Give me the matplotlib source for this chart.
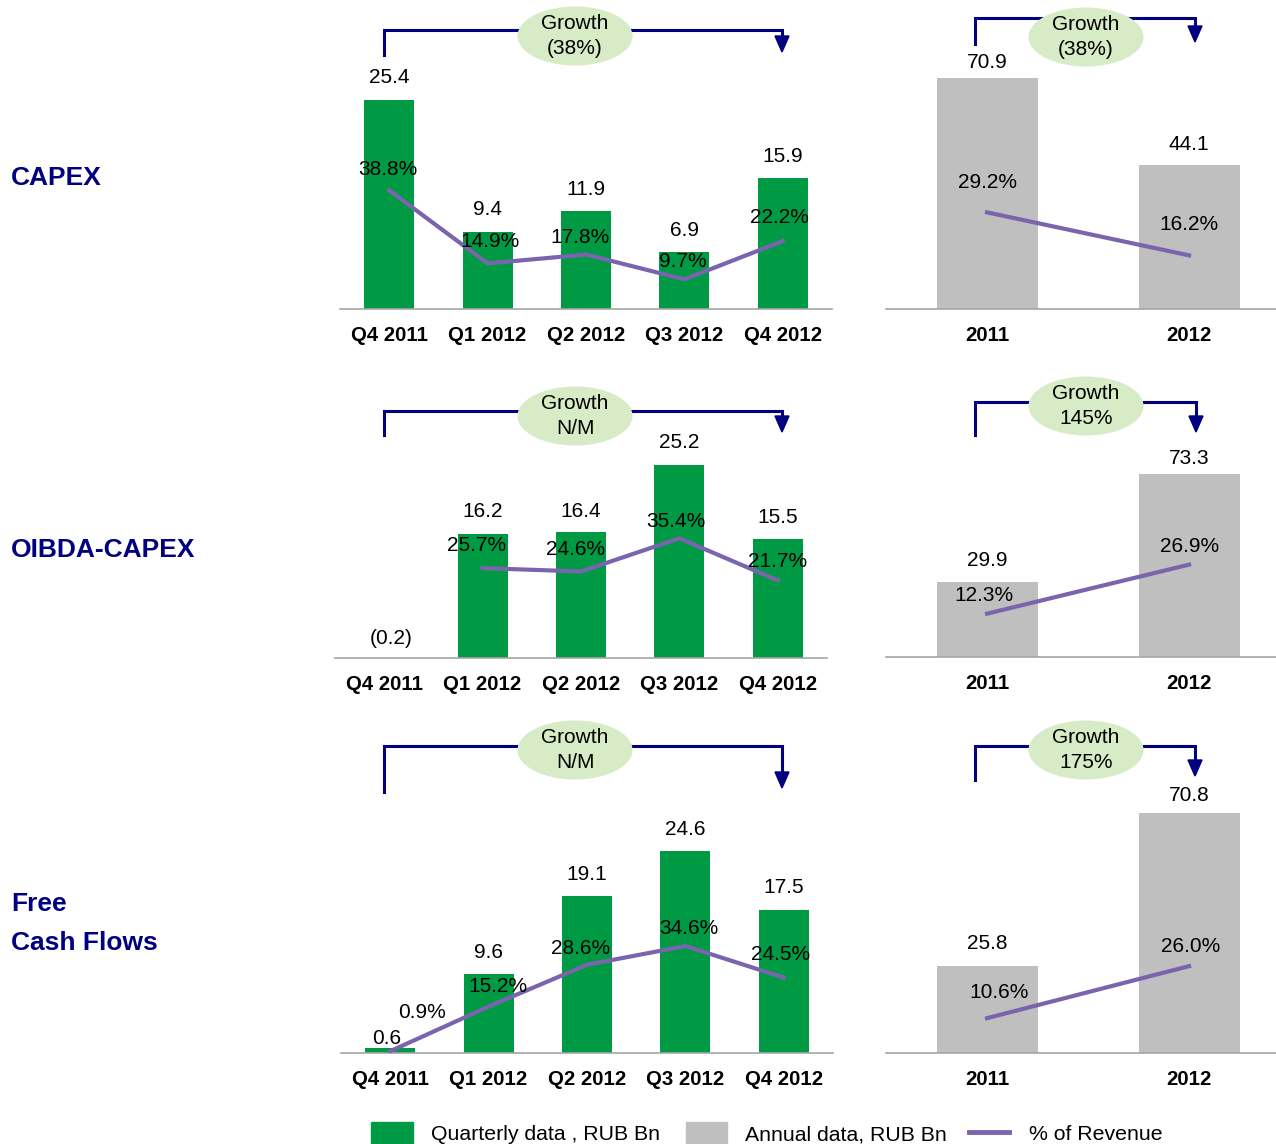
import numpy as np
import matplotlib
matplotlib.use('Agg')
import matplotlib.pyplot as plt
from matplotlib.patches import Ellipse, Rectangle, Polygon

plt.rcParams['font.family'] = ['Liberation Sans', 'DejaVu Sans']

# ---- data ----
quarters = ['Q4 2011', 'Q1 2012', 'Q2 2012', 'Q3 2012', 'Q4 2012']
years = ['2011', '2012']
row_names = ['CAPEX', 'OIBDA-CAPEX', 'Free\nCash Flows']

capex_q = [25.4, 9.4, 11.9, 6.9, 15.9]
capex_q_pct = [38.8, 14.9, 17.8, 9.7, 22.2]
capex_y = [70.9, 44.1]
capex_y_pct = [29.2, 16.2]

oc_q = [-0.2, 16.2, 16.4, 25.2, 15.5]
oc_q_pct = [np.nan, 25.7, 24.6, 35.4, 21.7]
oc_y = [29.9, 73.3]
oc_y_pct = [12.3, 26.9]

fcf_q = [0.6, 9.6, 19.1, 24.6, 17.5]
fcf_q_pct = [0.9, 15.2, 28.6, 34.6, 24.5]
fcf_y = [25.8, 70.8]
fcf_y_pct = [10.6, 26.0]

growth_q = ['(38%)', 'N/M', 'N/M']
growth_y = ['(38%)', '145%', '175%']

# ---- style / layout (pixels) ----
W, H = 1276, 1144
GREEN = '#009A44'
GREY = '#BFBFBF'
PURPLE = '#7B64AE'
NAVY = '#000080'
ELL = '#D7EBC6'
FS = 15
FS_TICK = 14.7
FS_ROW = 19

q_x0 = [340, 335, 341]
q_x1 = [832, 827, 833]
q_base = [309, 658, 1053]
q_bar_ppu = [8.23, 7.66, 8.2]
q_pct_ppu = [3.06, 3.07, 3.12]
q_pct_zero = [309, 647, 1054]
a_base = [309, 657, 1053]
a_bar_ppu = [3.26, 2.5, 3.39]
a_pct_ppu = [3.31, 3.36, 3.38]
a_pct_zero = [309, 655, 1054]

# label offsets in pixels (dy above bar top / line point)
q_val_dy = [[22] * 5, [19, 22, 21, 22, 22], [10, 22, 22, 22, 22]]
q_val_dx = [[0] * 5, [7, 0, 0, 0, 0], [-4, 0, 0, 0, 0]]
a_val_dy = [[15, 21], [22, 15], [22, 17]]
q_pct_off = [[(-1, 21), (2, 22), (-6, 17), (-2, 18), (-3, 24)],
             [(0, 0), (-6, 23), (-5, 22), (-4, 17), (0, 19)],
             [(32, 39), (9, 20), (-6, 16), (3, 18), (-3, 23)]]
a_pct_off = [[(0, 30), (0, 31)], [(-3, 18), (0, 18)], [(12, 26), (2, 20)]]

fig = plt.figure(figsize=(W / 100, H / 100), dpi=100)


def px_axes(x0, x1, base, top):
    ax = fig.add_axes([x0 / W, 1 - base / H, (x1 - x0) / W, (base - top) / H])
    ax.patch.set_visible(False)
    return ax


def fmt(v):
    return '({:.1f})'.format(-v) if v < 0 else '{:.1f}'.format(v)


def panel(x0, x1, base, labels, vals, pcts, color, bw, xmax,
          bar_ppu, pct_ppu, pct_zero, val_dy, val_dx, pct_off):
    top = base - 300
    ax = px_axes(x0, x1, base, top)
    x = np.arange(len(labels))
    ax.bar(x, vals, width=bw, color=color, zorder=2)
    ax.set_xlim(-0.5, xmax)
    ax.set_ylim(0, (base - top) / bar_ppu)
    for s in ['top', 'left', 'right']:
        ax.spines[s].set_visible(False)
    ax.spines['bottom'].set_color('#A6A6A6')
    ax.spines['bottom'].set_linewidth(1.2)
    ax.set_yticks([])
    ax.set_xticks(x, labels, fontweight='bold', fontsize=FS_TICK)
    ax.tick_params(axis='x', length=0, pad=12)
    for i, v in enumerate(vals):
        ax.annotate(fmt(v), (x[i], max(v, 0)), xytext=(val_dx[i], val_dy[i]),
                    textcoords='offset pixels', ha='center', va='center', fontsize=FS)

    ax2 = ax.twinx()
    ax2.patch.set_visible(False)
    ax2.set_ylim(-(base - pct_zero) / pct_ppu, (pct_zero - top) / pct_ppu)
    ax2.plot(x, pcts, color=PURPLE, lw=3, zorder=3)
    ax2.axis('off')
    for i, p in enumerate(pcts):
        if np.isnan(p):
            continue
        ax2.annotate('{:.1f}%'.format(p), (x[i], p), xytext=pct_off[i],
                     textcoords='offset pixels', ha='center', va='center', fontsize=FS)


q_vals = [capex_q, oc_q, fcf_q]
q_pcts = [capex_q_pct, oc_q_pct, fcf_q_pct]
a_vals = [capex_y, oc_y, fcf_y]
a_pcts = [capex_y_pct, oc_y_pct, fcf_y_pct]

for r in range(3):
    panel(q_x0[r], q_x1[r], q_base[r], quarters, q_vals[r], q_pcts[r], GREEN, 0.51, 4.5,
          q_bar_ppu[r], q_pct_ppu[r], q_pct_zero[r], q_val_dy[r], q_val_dx[r], q_pct_off[r])
    panel(886, 1276, a_base[r], years, a_vals[r], a_pcts[r], GREY, 0.5, 1.43,
          a_bar_ppu[r], a_pct_ppu[r], a_pct_zero[r], a_val_dy[r], [0, 0], a_pct_off[r])

# ---- overlay: growth brackets, row names, legend ----
ov = fig.add_axes([0, 0, 1, 1])
ov.set_xlim(0, W)
ov.set_ylim(H, 0)
ov.axis('off')
ov.patch.set_visible(False)


def bracket(xl, xr, ytop, yl, ytip, cx, cy, txt):
    ov.plot([xl, xl, xr, xr], [yl, ytop, ytop, ytip - 12], color=NAVY, lw=2.2,
            solid_joinstyle='miter', zorder=1)
    ov.add_patch(Polygon([[xr - 7, ytip - 16], [xr + 7, ytip - 16], [xr, ytip]],
                         closed=True, color=NAVY, zorder=1))
    ov.add_patch(Ellipse((cx, cy), 115, 59, facecolor=ELL, edgecolor='none', zorder=2))
    ov.text(cx, cy, 'Growth\n' + txt, ha='center', va='center', fontsize=FS,
            linespacing=1.45, zorder=3)


bracket(384, 782, 30, 55, 52, 575, 36, growth_q[0])
bracket(975, 1195, 18, 44, 42, 1086, 37, growth_y[0])
bracket(384, 782, 411, 435, 432, 575, 416, growth_q[1])
bracket(975, 1196, 402, 435, 432, 1086, 406, growth_y[1])
bracket(384, 782, 746, 792, 788, 575, 750, growth_q[2])
bracket(975, 1195, 746, 780, 776, 1086, 750, growth_y[2])

free_line, cash_line = row_names[2].split('\n')
ov.text(11, 178, row_names[0], va='center', fontsize=FS_ROW, fontweight='bold', color=NAVY)
ov.text(11, 550, row_names[1], va='center', fontsize=FS_ROW, fontweight='bold', color=NAVY)
ov.text(11, 904, free_line, va='center', fontsize=FS_ROW, fontweight='bold', color=NAVY)
ov.text(11, 943, cash_line, va='center', fontsize=FS_ROW, fontweight='bold', color=NAVY)

ov.add_patch(Rectangle((371, 1122), 42, 24, color=GREEN))
ov.text(431, 1135, 'Quarterly data , RUB Bn', va='center', fontsize=15.3)
ov.add_patch(Rectangle((686, 1122), 41, 24, color=GREY))
ov.text(745, 1135, 'Annual data, RUB Bn', va='center', fontsize=15.3)
ov.plot([969, 1009], [1132, 1132], color=PURPLE, lw=3.5)
ov.text(1029, 1135, '% of Revenue', va='center', fontsize=15.3)

fig.savefig('out.png', dpi=100)
